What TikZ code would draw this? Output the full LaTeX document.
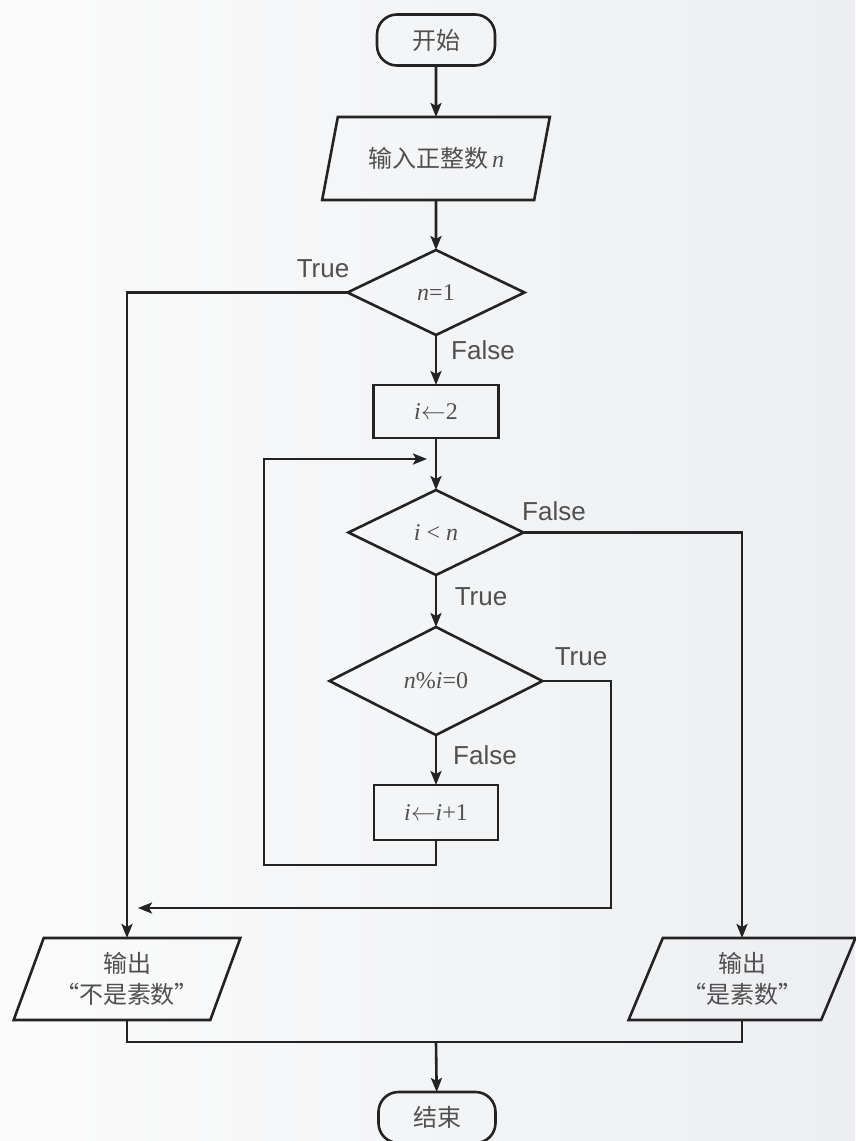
\documentclass[tikz,border=0pt]{standalone}
\usepackage{fontspec}
\setmainfont{Liberation Serif}
\newfontfamily\cjk{Noto Sans CJK SC}
\newfontfamily\lblfont{Liberation Sans}
\usetikzlibrary{arrows.meta,shapes.geometric}
\definecolor{bgleft}{RGB}{251,251,251}
\definecolor{bgright}{RGB}{236,238,241}
\definecolor{ink}{RGB}{35,35,35}
\definecolor{txt}{RGB}{80,80,80}
\newcommand{\var}[1]{{\rmfamily\itshape #1}}
\newcommand{\assign}{\ensuremath{\leftarrow}}
\tikzset{
    base/.style={draw=ink,line width=2.6pt,inner sep=0pt,outer sep=0pt,text=txt,font=\fontsize{24}{28}\selectfont},
    terminal/.style={base,rectangle,rounded corners=20pt,minimum width=118pt,minimum height=51pt,font=\cjk\fontsize{24}{28}\selectfont},
    io/.style={base,trapezium,trapezium left angle=64,trapezium right angle=116,trapezium stretches=true,
        minimum width=228pt,minimum height=83pt,align=center,font=\cjk\fontsize{24}{31}\selectfont},
    test/.style={base,diamond},
    process/.style={base,rectangle},
    line/.style={draw=ink,line width=2.6pt},
    arrow/.style={line,-{Stealth[length=14pt,width=11pt,inset=3pt]}},
    branch/.style={text=txt,font=\lblfont\fontsize{26}{30}\selectfont}
}
\begin{document}
\begin{tikzpicture}[x=1pt,y=-1pt]
    \shade[left color=bgleft,right color=bgright] (0,0) rectangle (855,1141);
    \useasboundingbox (0,0) rectangle (855,1141);
    \node[terminal] (start) at (436,40) {开始};
    \node[io] (input) at (436,158.5) {输入正整数\,\var{n}};
    \node[test,minimum width=177pt,minimum height=85pt] (isone) at (436,292.5) {\var{n}=1};
    \node[process,minimum width=125pt,minimum height=53pt] (init) at (436,411.5) {\var{i}\assign2};
    \node[test,minimum width=175pt,minimum height=85pt] (less) at (436,532.5) {\var{i} < \var{n}};
    \node[test,minimum width=213pt,minimum height=108pt] (divides) at (436,681) {\var{n}\%\var{i}=0};
    \node[process,minimum width=124pt,minimum height=55pt] (incr) at (436,812.5) {\var{i}\assign\var{i}+1};
    \node[io,minimum width=227pt,minimum height=82pt] (notprime) at (127,979) {输出\\“不是素数”};
    \node[io,minimum width=227pt,minimum height=82pt] (prime) at (742,979) {输出\\“是素数”};
    \node[terminal,minimum width=117pt] (stop) at (437,1117.5) {结束};
    % puntos de los codos
    \coordinate (loopcorner) at (264,865);
    \coordinate (loopin) at (427,459);
    \coordinate (backcorner) at (611,908);
    \coordinate (backin) at (138,908);
    \coordinate (merge) at (436,1042);
    \draw[arrow] (start) -- (input);
    \draw[arrow] (input) -- (isone);
    \draw[arrow] (isone.west) -| (notprime.north);
    \draw[arrow] (isone) -- (init);
    \draw[arrow] (init) -- (less);
    \draw[arrow] (less.east) -| (prime.north);
    \draw[arrow] (less) -- (divides);
    \draw[arrow] (divides) -- (incr);
    \draw[arrow] (incr.south) |- (loopcorner) |- (loopin);
    \draw[arrow] (divides.east) -| (backcorner) -- (backin);
    \draw[line] (notprime.south) |- (merge) -| (prime.south);
    \draw[arrow] (merge) -- (stop);
    \node[branch] (t1) at (323,269) {True};
    \node[branch] (f1) at (483,350) {False};
    \node[branch] (f2) at (554,511) {False};
    \node[branch] (t2) at (481,597) {True};
    \node[branch] (t3) at (581,657) {True};
    \node[branch] (f3) at (485,755) {False};
\end{tikzpicture}
\end{document}
